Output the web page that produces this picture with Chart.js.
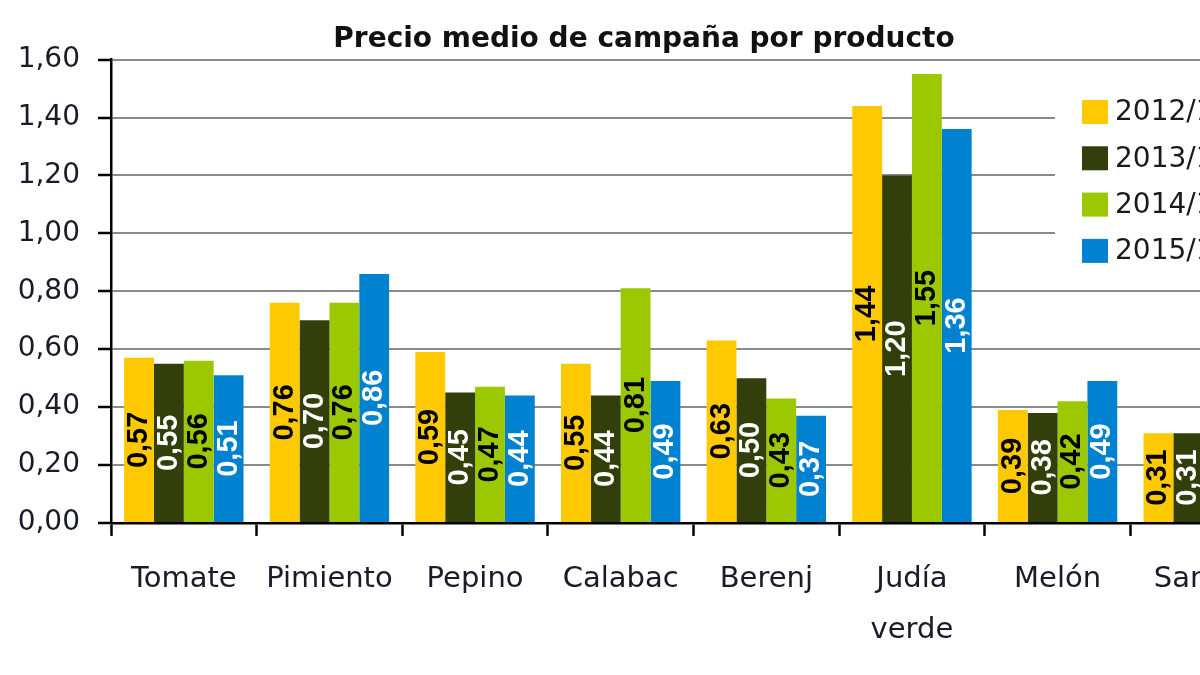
<!DOCTYPE html>
<html lang="es">
<head>
<meta charset="utf-8">
<title>Precio medio de campaña por producto</title>
<script src="https://cdn.jsdelivr.net/npm/chart.js@4.4.1/dist/chart.umd.min.js"></script>
<style>
  html, body { margin: 0; padding: 0; background: #fff; overflow: hidden; }
  #lienzo { position: absolute; left: 0; top: 0; width: 1288px; height: 675px; }
</style>
</head>
<body>
<div id="lienzo"><canvas id="grafico"></canvas></div>
<script>
// ==============================
// DATOS
// ==============================
const productos = ["Tomate", "Pimiento", "Pepino", "Calabac", "Berenj", ["Judía", "verde"], "Melón", "Sandía"];
const campanas = ["2012/13", "2013/14", "2014/15", "2015/16"];
const precios2012 = [0.57, 0.76, 0.59, 0.55, 0.63, 1.44, 0.39, 0.31];
const precios2013 = [0.55, 0.70, 0.45, 0.44, 0.50, 1.20, 0.38, 0.31];
const precios2014 = [0.56, 0.76, 0.47, 0.81, 0.43, 1.55, 0.42, 0.29];
const precios2015 = [0.51, 0.86, 0.44, 0.49, 0.37, 1.36, 0.49, 0.33];
const ticksY = [0, 0.2, 0.4, 0.6, 0.8, 1.0, 1.2, 1.4, 1.6];

const colores = ["#FFC900", "#333F0A", "#9BC800", "#0082D0"];
const coloresTexto = ["#000000", "#FFFFFF", "#000000", "#FFFFFF"];
const FUENTE = "'DejaVu Sans', sans-serif";

const coma = v => v.toFixed(2).replace(".", ",");

// ==============================
// PLUGINS
// ==============================
// etiquetas giradas en el centro de cada barra
const etiquetasBarras = {
  id: "etiquetasBarras",
  afterDatasetsDraw(chart) {
    const ctx = chart.ctx;
    chart.data.datasets.forEach((ds, i) => {
      chart.getDatasetMeta(i).data.forEach((barra, j) => {
        ctx.save();
        ctx.translate(barra.x, (barra.y + barra.base) / 2);
        ctx.rotate(-Math.PI / 2);
        ctx.font = "bold 29px 'Liberation Sans', Arial, sans-serif";
        ctx.fillStyle = coloresTexto[i];
        ctx.textAlign = "center";
        ctx.textBaseline = "middle";
        ctx.fillText(coma(ds.data[j]), 0, 0);
        ctx.restore();
      });
    });
  }
};

// leyenda sobre el área del gráfico, con fondo blanco
const leyenda = {
  id: "leyenda",
  afterDraw(chart) {
    const ctx = chart.ctx;
    ctx.save();
    ctx.fillStyle = "#fff";
    ctx.fillRect(1055, 80, 240, 195);
    ctx.font = "28px " + FUENTE;
    ctx.textBaseline = "middle";
    chart.data.datasets.forEach((ds, i) => {
      const y = 100 + i * 46.3;
      ctx.fillStyle = ds.backgroundColor;
      ctx.fillRect(1082, y, 26, 24);
      ctx.fillStyle = "#1a1a1a";
      ctx.fillText(ds.label, 1115, y + 13);
    });
    ctx.restore();
  }
};

// ==============================
// GRÁFICO
// ==============================
const series = [precios2012, precios2013, precios2014, precios2015];

new Chart(document.getElementById("grafico"), {
  type: "bar",
  data: {
    labels: productos,
    datasets: series.map((datos, i) => ({
      label: campanas[i],
      data: datos,
      backgroundColor: colores[i],
      borderWidth: 0,
      barPercentage: 1.0,
      categoryPercentage: 0.82
    }))
  },
  options: {
    responsive: true,
    maintainAspectRatio: false,
    animation: false,
    layout: { padding: { left: 12, right: 12, top: 0, bottom: 1 } },
    plugins: {
      legend: { display: false },
      tooltip: { enabled: false },
      title: {
        display: true,
        text: "Precio medio de campaña por producto",
        color: "#111",
        font: { family: FUENTE, size: 28, weight: "bold" },
        padding: { top: 23, bottom: 3 }
      }
    },
    scales: {
      x: {
        grid: { drawOnChartArea: false, tickLength: 13, tickColor: "#000", tickWidth: 2.5 },
        border: { color: "#000", width: 2.5 },
        ticks: {
          color: "#1a1a2a",
          padding: 18,
          maxRotation: 0,
          autoSkip: false,
          font: { family: FUENTE, size: 29, lineHeight: 1.76 }
        }
      },
      y: {
        min: 0,
        max: 1.6,
        afterBuildTicks: scale => { scale.ticks = ticksY.map(v => ({ value: v })); },
        afterFit: scale => { scale.width = 99; },
        grid: { color: "#8a8a8a", lineWidth: 2, tickLength: 13, tickColor: "#000", tickWidth: 2.5 },
        border: { color: "#000", width: 2.5 },
        ticks: {
          color: "#1a1a2a",
          padding: 18,
          font: { family: FUENTE, size: 28 },
          callback: v => coma(v)
        }
      }
    }
  },
  plugins: [etiquetasBarras, leyenda]
});
</script>
</body>
</html>
